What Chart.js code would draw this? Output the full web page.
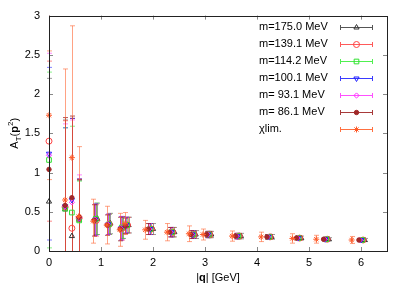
<!DOCTYPE html>
<html>
<head>
<meta charset="utf-8">
<script src="https://cdn.jsdelivr.net/npm/chart.js@4/dist/chart.umd.min.js"></script>
<style>
html,body{margin:0;padding:0;background:#fff;}
#wrap{width:407px;height:285px;}
</style>
</head>
<body>
<div id="wrap"><canvas id="c" width="407" height="285"></canvas></div>
<script>
// ---- data ----
const seriesNames = ['m=175.0 MeV','m=139.1 MeV','m=114.2 MeV','m=100.1 MeV','m= 93.1 MeV','m= 86.1 MeV','\u03c7lim.'];

const q175 = [0, 0.31, 0.44, 0.58, 0.93, 1.18, 1.43, 1.53, 2.00, 2.41, 2.82, 3.12, 3.69, 4.28, 4.85, 5.38, 6.07];
const a175 = [0.63, 0.53, 0.19, 0.40, 0.41, 0.35, 0.30, 0.33, 0.28, 0.24, 0.21, 0.21, 0.19, 0.18, 0.165, 0.15, 0.14];
const e175 = [1.57, 1.14, 1.50, 0.50, 0.20, 0.13, 0.14, 0.10, 0.07, 0.06, 0.05, 0.04, 0.035, 0.03, 0.025, 0.02, 0.02];

const q139 = [0, 0.31, 0.44, 0.58, 0.91, 1.16, 1.41, 1.51, 1.97, 2.38, 2.79, 3.09, 3.66, 4.25, 4.82, 5.35, 6.04];
const a139 = [1.40, 0.56, 0.29, 0.42, 0.39, 0.34, 0.29, 0.33, 0.28, 0.24, 0.21, 0.21, 0.19, 0.18, 0.165, 0.15, 0.14];
const e139 = [1.02, 1.10, 1.40, 0.50, 0.20, 0.13, 0.15, 0.10, 0.07, 0.06, 0.05, 0.04, 0.035, 0.03, 0.025, 0.02, 0.02];

const q114 = [0, 0.31, 0.44, 0.58, 0.90, 1.15, 1.40, 1.50, 1.95, 2.36, 2.77, 3.07, 3.64, 4.23, 4.80, 5.33, 6.02];
const a114 = [1.16, 0.54, 0.49, 0.39, 0.41, 0.34, 0.30, 0.33, 0.28, 0.24, 0.21, 0.21, 0.19, 0.18, 0.165, 0.15, 0.14];
const e114 = [1.12, 1.03, 1.10, 0.50, 0.20, 0.13, 0.14, 0.10, 0.07, 0.06, 0.05, 0.04, 0.035, 0.03, 0.025, 0.02, 0.02];

const q100 = [0, 0.31, 0.44, 0.58, 0.89, 1.14, 1.39, 1.49, 1.94, 2.35, 2.76, 3.06, 3.62, 4.22, 4.79, 5.31, 6.00];
const a100 = [1.24, 0.57, 0.65, 0.42, 0.40, 0.34, 0.29, 0.33, 0.28, 0.24, 0.21, 0.21, 0.19, 0.18, 0.165, 0.15, 0.14];
const e100 = [1.10, 1.00, 1.04, 0.50, 0.20, 0.13, 0.15, 0.10, 0.07, 0.06, 0.05, 0.04, 0.035, 0.03, 0.025, 0.02, 0.02];

const q93 = [0, 0.31, 0.44, 0.58, 0.88, 1.13, 1.38, 1.48, 1.93, 2.34, 2.75, 3.05, 3.61, 4.21, 4.78, 5.30, 5.98];
const a93 = [1.22, 0.57, 0.62, 0.42, 0.40, 0.34, 0.29, 0.33, 0.28, 0.24, 0.21, 0.21, 0.19, 0.18, 0.165, 0.15, 0.14];
const e93 = [1.30, 1.05, 1.05, 0.55, 0.20, 0.13, 0.15, 0.10, 0.07, 0.06, 0.05, 0.04, 0.035, 0.03, 0.025, 0.02, 0.02];

const q86 = [0, 0.31, 0.44, 0.58, 0.87, 1.12, 1.37, 1.47, 1.91, 2.32, 2.73, 3.03, 3.59, 4.19, 4.76, 5.28, 5.96];
const a86 = [1.04, 0.58, 0.68, 0.43, 0.39, 0.33, 0.28, 0.32, 0.28, 0.24, 0.21, 0.21, 0.19, 0.18, 0.165, 0.15, 0.14];
const e86 = [2.50, 1.12, 1.04, 0.48, 0.20, 0.13, 0.15, 0.10, 0.07, 0.06, 0.05, 0.04, 0.035, 0.03, 0.025, 0.02, 0.02];

const qChi = [0, 0.31, 0.44, 0.57, 0.85, 1.11, 1.36, 1.46, 1.85, 2.27, 2.69, 2.96, 3.52, 4.08, 4.68, 5.14, 5.82];
const aChi = [1.73, 0.65, 1.19, 0.44, 0.38, 0.33, 0.27, 0.35, 0.27, 0.24, 0.22, 0.21, 0.19, 0.18, 0.16, 0.15, 0.14];
const eChi = [0.82, 1.67, 1.68, 0.89, 0.28, 0.24, 0.21, 0.14, 0.12, 0.11, 0.10, 0.07, 0.065, 0.06, 0.06, 0.05, 0.045];

const xTicks = [0, 1, 2, 3, 4, 5, 6];
const yTicks = [0, 0.5, 1, 1.5, 2, 2.5, 3];

// ---- styles ----
const FONT = '"Liberation Sans", Arial, sans-serif';
const styles = [
  {color:'#333333', err:'rgba(70,70,70,0.55)',  leg:'#555555', ps:'triangle', rot:0,   r:3,   fill:false},
  {color:'#ff4040', err:'rgba(255,60,60,0.6)',  leg:'#ff5a5a', ps:'circle',   rot:0,   r:3,   fill:false},
  {color:'#30e030', err:'rgba(40,230,40,0.55)', leg:'#50f050', ps:'rect',     rot:0,   r:3.3, fill:false},
  {color:'#2020ff', err:'rgba(30,30,255,0.55)', leg:'#3a3aff', ps:'triangle', rot:180, r:3,   fill:false},
  {color:'#ff30ff', err:'rgba(255,40,255,0.55)',leg:'#ff50ff', ps:'rectRot',  rot:0,   r:2.6, fill:false},
  {color:'#a02828', err:'rgba(150,30,30,0.75)', leg:'#a83a3a', ps:'circle',   rot:0,   r:2.2, fill:true},
  {color:'#ff5a28', err:'rgba(255,100,50,0.6)', leg:'#ff7040', ps:'star',     rot:0,   r:3,   fill:false}
];
const qs = [q175,q139,q114,q100,q93,q86,qChi];
const as = [a175,a139,a114,a100,a93,a86,aChi];
const es = [e175,e139,e114,e100,e93,e86,eChi];

const datasets = seriesNames.map((name,i)=>({
  label: name,
  data: qs[i].map((q,k)=>({x:q, y:as[i][k], err:es[i][k]})),
  pointStyle: styles[i].ps,
  pointRotation: styles[i].rot,
  pointRadius: styles[i].r,
  pointHoverRadius: styles[i].r,
  borderColor: styles[i].color,
  backgroundColor: styles[i].fill ? styles[i].color : 'rgba(0,0,0,0)',
  pointBorderWidth: 1,
  showLine: false,
  clip: false,
  order: seriesNames.length - i
}));

const errorBars = {
  id:'errorBars',
  beforeDatasetsDraw(chart){
    const {ctx, chartArea:ca, scales:{x,y}} = chart;
    ctx.save();
    ctx.beginPath();
    ctx.rect(ca.left-6, ca.top, ca.right-ca.left+12, ca.bottom-ca.top);
    ctx.clip();
    ctx.lineWidth = 1;
    chart.data.datasets.forEach((ds,i)=>{
      ctx.strokeStyle = styles[i].err;
      ds.data.forEach(p=>{
        const px = Math.round(x.getPixelForValue(p.x))+0.5;
        const y1 = y.getPixelForValue(p.y + p.err);
        const y2 = y.getPixelForValue(p.y - p.err);
        ctx.beginPath();
        ctx.moveTo(px, y1); ctx.lineTo(px, y2);
        ctx.moveTo(px-2.5, y1); ctx.lineTo(px+2.5, y1);
        ctx.moveTo(px-2.5, y2); ctx.lineTo(px+2.5, y2);
        ctx.stroke();
      });
    });
    ctx.restore();
  }
};

function drawMarker(ctx, st, x, y){
  ctx.save();
  ctx.strokeStyle = st.color;
  ctx.fillStyle = st.fill ? st.color : 'rgba(0,0,0,0)';
  ctx.lineWidth = 1;
  Chart.helpers.drawPoint(ctx, {pointStyle: st.ps, rotation: st.rot, radius: st.r, borderWidth: 1}, x, y);
  ctx.restore();
}

const frame = {
  id:'frame',
  afterDraw(chart){
    const {ctx, chartArea:ca, scales:{x,y}} = chart;
    ctx.save();
    // inward ticks on all sides
    ctx.strokeStyle = '#888888';
    ctx.lineWidth = 1;
    ctx.beginPath();
    xTicks.forEach(v=>{
      const px = Math.round(x.getPixelForValue(v))+0.5;
      ctx.moveTo(px, ca.bottom); ctx.lineTo(px, ca.bottom-4);
      ctx.moveTo(px, ca.top); ctx.lineTo(px, ca.top+4);
    });
    yTicks.forEach(v=>{
      const py = Math.round(y.getPixelForValue(v))+0.5;
      ctx.moveTo(ca.left, py); ctx.lineTo(ca.left+4, py);
      ctx.moveTo(ca.right, py); ctx.lineTo(ca.right-4, py);
    });
    ctx.stroke();
    // border
    ctx.strokeStyle = '#222222';
    ctx.strokeRect(Math.round(ca.left)+0.5, Math.round(ca.top)+0.5, Math.round(ca.right-ca.left), Math.round(ca.bottom-ca.top));

    // legend
    ctx.font = '11px ' + FONT;
    ctx.textBaseline = 'middle';
    ctx.textAlign = 'left';
    const ly0 = ca.top + 11.7, dy = 16.9;
    const x1 = ca.right - 47, x2 = ca.right - 14, tx = ca.right - 128;
    seriesNames.forEach((name,i)=>{
      const ly = ly0 + i*dy;
      ctx.fillStyle = '#000';
      ctx.fillText(name, tx, ly);
      ctx.strokeStyle = styles[i].leg;
      ctx.beginPath();
      const yy = Math.round(ly)+0.5;
      ctx.moveTo(x1, yy); ctx.lineTo(x2, yy);
      ctx.moveTo(x1+0.5, yy-2.5); ctx.lineTo(x1+0.5, yy+2.5);
      ctx.moveTo(x2-0.5, yy-2.5); ctx.lineTo(x2-0.5, yy+2.5);
      ctx.stroke();
      drawMarker(ctx, styles[i], (x1+x2)/2, yy);
    });

    // axis titles
    ctx.fillStyle = '#000';
    ctx.textBaseline = 'alphabetic';
    // x title: |q| [GeV]
    const parts = [['|','normal'],['q','bold'],['| [GeV]','normal']];
    let tw = 0;
    parts.forEach(p=>{ctx.font = p[1]+' 11px '+FONT; tw += ctx.measureText(p[0]).width;});
    let cx = (ca.left+ca.right)/2 - tw/2;
    parts.forEach(p=>{ctx.font = p[1]+' 11px '+FONT; ctx.fillText(p[0], cx, 281); cx += ctx.measureText(p[0]).width;});
    // y title: A_T(p^2)
    ctx.save();
    ctx.translate(18, (ca.top+ca.bottom)/2);
    ctx.rotate(-Math.PI/2);
    const yp = [['A','normal',11,0],['T','normal',8,3],['(','normal',11,0],['p','bold',11,0],['2','normal',8,-5],[')','normal',11,0]];
    tw = 0;
    yp.forEach(p=>{ctx.font = p[1]+' '+p[2]+'px '+FONT; tw += ctx.measureText(p[0]).width;});
    cx = -tw/2;
    yp.forEach(p=>{ctx.font = p[1]+' '+p[2]+'px '+FONT; ctx.fillText(p[0], cx, p[3]); cx += ctx.measureText(p[0]).width;});
    ctx.restore();
    ctx.restore();
  }
};

new Chart(document.getElementById('c'), {
  type:'scatter',
  data:{datasets},
  options:{
    responsive:false,
    animation:false,
    devicePixelRatio:1,
    layout:{padding:{top:14, right:20, left:0, bottom:0}},
    plugins:{legend:{display:false}, tooltip:{enabled:false}},
    scales:{
      x:{
        type:'linear', min:0, max:6.5,
        afterFit(s){ s.height = 34; },
        afterBuildTicks(s){ s.ticks = xTicks.map(v=>({value:v})); },
        ticks:{stepSize:1, includeBounds:false, padding:5, color:'#000', font:{family:FONT, size:11}, callback:(v)=>String(v)},
        grid:{display:true, drawOnChartArea:false, drawTicks:false},
        border:{display:false}
      },
      y:{
        type:'linear', min:0, max:3,
        afterFit(s){ s.width = 49; },
        afterBuildTicks(s){ s.ticks = yTicks.map(v=>({value:v})); },
        ticks:{stepSize:0.5, padding:9, color:'#000', font:{family:FONT, size:11}, callback:(v)=>String(v)},
        grid:{display:true, drawOnChartArea:false, drawTicks:false},
        border:{display:false}
      }
    }
  },
  plugins:[errorBars, frame]
});
</script>
</body>
</html>
